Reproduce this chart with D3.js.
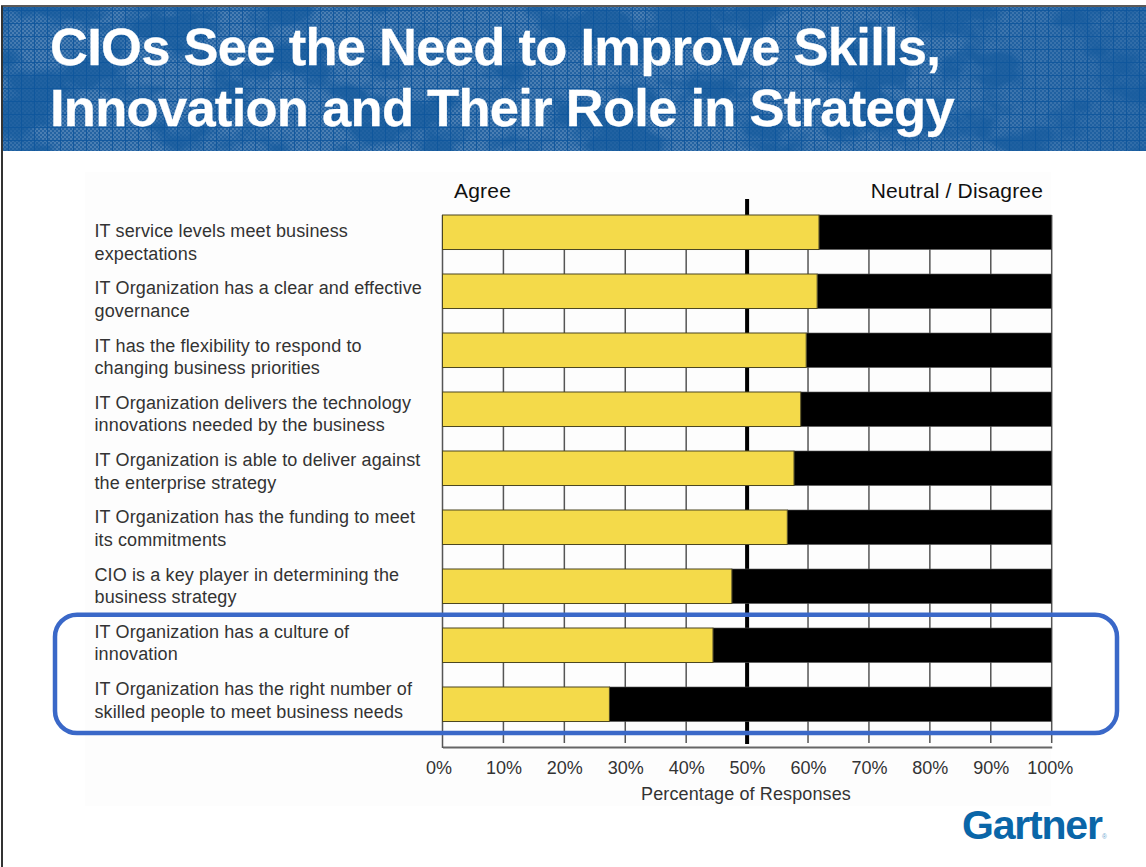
<!DOCTYPE html>
<html>
<head>
<meta charset="utf-8">
<script src="https://cdn.jsdelivr.net/npm/d3@7/dist/d3.min.js"></script>
<style>
html,body{margin:0;padding:0;background:#fff;overflow:hidden}
svg{display:block}
text{font-family:"Liberation Sans",Arial,sans-serif}
</style>
</head>
<body>
<script>
const titleLines = ["CIOs See the Need to Improve Skills,", "Innovation and Their Role in Strategy"];
const categories = [
  ["IT service levels meet business", "expectations"],
  ["IT Organization has a clear and effective", "governance"],
  ["IT has the flexibility to respond to", "changing business priorities"],
  ["IT Organization delivers the technology", "innovations needed by the business"],
  ["IT Organization is able to deliver against", "the enterprise strategy"],
  ["IT Organization has the funding to meet", "its commitments"],
  ["CIO is a key player in determining the", "business strategy"],
  ["IT Organization has a culture of", "innovation"],
  ["IT Organization has the right number of", "skilled people to meet business needs"]
];
const agree = [61.8, 61.5, 59.7, 58.8, 57.7, 56.6, 47.5, 44.4, 27.4];
const neutralDisagree = [38.2, 38.5, 40.3, 41.2, 42.3, 43.4, 52.5, 55.6, 72.6];
const xTicks = [0, 10, 20, 30, 40, 50, 60, 70, 80, 90, 100];
const headers = ["Agree", "Neutral / Disagree"];
const xTitle = "Percentage of Responses";
const brand = "Gartner";

const W = 1146, H = 867;
const svg = d3.select("body").append("svg").attr("width", W).attr("height", H);
const defs = svg.append("defs");

// Banner texture: fine checker dither over a dark blue
const dither = defs.append("pattern").attr("id", "dither").attr("patternUnits", "userSpaceOnUse")
  .attr("width", 4).attr("height", 4);
dither.append("rect").attr("width", 4).attr("height", 4).attr("fill", "#2463a2");
dither.append("rect").attr("width", 2).attr("height", 2).attr("fill", "#4a7eb3");
dither.append("rect").attr("x", 2).attr("y", 2).attr("width", 2).attr("height", 2).attr("fill", "#4a7eb3");

// Soft darker landmass shapes behind the title
const land = defs.append("filter").attr("id", "land").attr("x", "0").attr("y", "0").attr("width", "100%").attr("height", "100%")
  .attr("color-interpolation-filters", "sRGB");
land.append("feTurbulence").attr("type", "fractalNoise").attr("baseFrequency", "0.012 0.02").attr("numOctaves", 4).attr("seed", 7);
land.append("feColorMatrix").attr("type", "matrix")
  .attr("values", "0 0 0 0 0.09  0 0 0 0 0.36  0 0 0 0 0.62  7 0 0 0 -3.3");

// The right end of the banner settles into a flatter blue
const fade = defs.append("linearGradient").attr("id", "fade").attr("x1", 0).attr("x2", 1).attr("y1", 0).attr("y2", 0);
fade.append("stop").attr("offset", "0").attr("stop-color", "#1a5d9f").attr("stop-opacity", 0);
fade.append("stop").attr("offset", "1").attr("stop-color", "#1a5d9f").attr("stop-opacity", 0.55);

const banner = svg.append("g");
banner.append("rect").attr("x", 3).attr("y", 7).attr("width", W - 3).attr("height", 144).attr("fill", "url(#dither)");
banner.append("rect").attr("x", 3).attr("y", 7).attr("width", W - 3).attr("height", 144).attr("filter", "url(#land)").attr("opacity", 0.8);
banner.append("rect").attr("x", 880).attr("y", 7).attr("width", W - 880).attr("height", 144).attr("fill", "url(#fade)");
const gridX = d3.range(8, W, 13), gridY = d3.range(10, 151, 13);
banner.selectAll("line.gx").data(gridX).join("line").attr("class", "gx")
  .attr("x1", d => d + 0.5).attr("x2", d => d + 0.5).attr("y1", 7).attr("y2", 151)
  .attr("stroke", "#0e569d").attr("stroke-width", 1).attr("opacity", 0.85);
banner.selectAll("line.gy").data(gridY).join("line").attr("class", "gy")
  .attr("y1", d => d + 0.5).attr("y2", d => d + 0.5).attr("x1", 3).attr("x2", W)
  .attr("stroke", "#0e569d").attr("stroke-width", 1).attr("opacity", 0.85);

// Slide frame
svg.append("line").attr("x1", 1).attr("x2", W).attr("y1", 6).attr("y2", 6).attr("stroke", "#222").attr("stroke-width", 1.5);
svg.append("line").attr("x1", 2).attr("x2", 2).attr("y1", 6).attr("y2", H).attr("stroke", "#333").attr("stroke-width", 2);

svg.selectAll("text.title").data(titleLines).join("text").attr("class", "title")
  .attr("x", 50).attr("y", (d, i) => 65 + i * 61)
  .attr("fill", "#fff").attr("stroke", "#fff").attr("stroke-width", 0.3)
  .attr("font-weight", 700).attr("font-size", 52.5).attr("letter-spacing", -0.72)
  .text(d => d);

// Faint panel behind the chart
svg.append("rect").attr("x", 85).attr("y", 172).attr("width", 966).attr("height", 634).attr("fill", "#fdfdfd");

// Scales
const x = d3.scaleLinear().domain([0, 100]).range([442.5, 1051.7]);
const rows = d3.range(categories.length);
const barGap = 0.415;
const y = d3.scaleBand().domain(rows).range([215, 746]).paddingInner(barGap).paddingOuter(barGap / 2).align(0);
const labelY = d3.scalePoint().domain(rows).range([231, 689]);

// Bottom axis with percentage labels
const axisG = svg.append("g").attr("transform", "translate(0,747)")
  .call(d3.axisBottom(x).tickValues(xTicks).tickFormat(d => d + "%").tickSize(0).tickPadding(14));
axisG.select(".domain").attr("stroke", "#666").attr("stroke-width", 2);
axisG.selectAll(".tick text").attr("font-family", "'Liberation Sans',Arial,sans-serif")
  .attr("font-size", 18).attr("fill", "#333")
  .attr("dx", d => d === 0 ? -4 : d === 100 ? -2 : 0);

// Gridlines, with a heavy rule at the midpoint
const grid = svg.append("g");
grid.selectAll("line").data(xTicks).join("line")
  .attr("x1", d => x(d)).attr("x2", d => x(d))
  .attr("y1", d => d === 50 ? 199 : 215)
  .attr("y2", d => d === 0 ? 748 : d === 50 ? 744 : 743)
  .attr("stroke", d => d === 50 ? "#000" : "#555")
  .attr("stroke-width", d => d === 50 ? 4 : 1.5);

// Stacked bars
const bars = svg.append("g");
bars.selectAll("rect.disagree").data(rows).join("rect").attr("class", "disagree")
  .attr("x", i => x(agree[i])).attr("y", i => y(i))
  .attr("width", i => x(agree[i] + neutralDisagree[i]) - x(agree[i])).attr("height", y.bandwidth())
  .attr("fill", "#000").attr("stroke", "#555").attr("stroke-width", 0.6);
bars.selectAll("rect.agree").data(rows).join("rect").attr("class", "agree")
  .attr("x", x(0)).attr("y", i => y(i))
  .attr("width", i => x(agree[i]) - x(0)).attr("height", y.bandwidth())
  .attr("fill", "#f4da4a").attr("stroke", "#4a4520").attr("stroke-width", 1);

// Statement labels
const labels = svg.append("g");
labels.selectAll("text").data(rows).join("text")
  .attr("y", i => labelY(i) + 6)
  .attr("font-size", 18).attr("fill", "#333").attr("letter-spacing", 0.12)
  .each(function (i) {
    d3.select(this).selectAll("tspan").data(categories[i]).join("tspan")
      .attr("x", 94.5).attr("dy", (d, k) => k ? 22.6 : 0).text(d => d);
  });

// Column headers and axis title
svg.append("text").attr("x", 454).attr("y", 198).attr("font-size", 21).attr("fill", "#111").attr("letter-spacing", 0.2).text(headers[0]);
svg.append("text").attr("x", 1043).attr("y", 198).attr("text-anchor", "end").attr("font-size", 21).attr("fill", "#111").attr("letter-spacing", 0.17).text(headers[1]);
svg.append("text").attr("x", 746).attr("y", 800).attr("text-anchor", "middle").attr("font-size", 18).attr("fill", "#333").attr("letter-spacing", 0.12).text(xTitle);

// Callout around the two lowest-scoring rows
svg.append("rect").attr("x", 55).attr("y", 614.7).attr("width", 1062).attr("height", 118.3).attr("rx", 22)
  .attr("fill", "none").attr("stroke", "#3a68c8").attr("stroke-width", 4.5);

// Wordmark
svg.append("text").attr("x", 962).attr("y", 839).attr("font-size", 41).attr("font-weight", 700)
  .attr("fill", "#0a66a8").attr("letter-spacing", -1.2).text(brand);
svg.append("text").attr("x", 1102).attr("y", 839).attr("font-size", 6.5).attr("fill", "#6aa5d0").text("®");
</script>
</body>
</html>
